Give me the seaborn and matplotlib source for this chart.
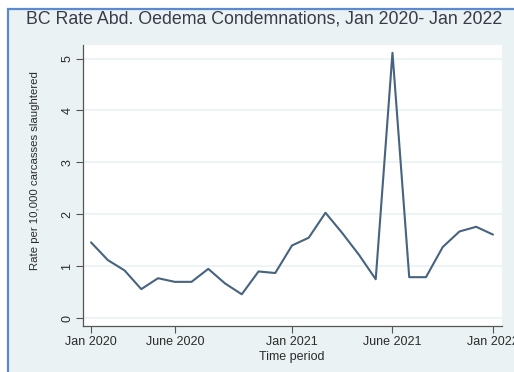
import matplotlib
matplotlib.use("Agg")
import matplotlib.pyplot as plt
from matplotlib.patches import Rectangle
import seaborn as sns
import pandas as pd

# Monthly rate of abdominal oedema condemnations, Jan 2020 .. Jan 2022
month_index = list(range(25))
rate = [1.46, 1.12, 0.92, 0.56, 0.77, 0.70, 0.70, 0.95, 0.67, 0.46, 0.90, 0.87,
        1.40, 1.55, 2.03, 1.64, 1.22, 0.75, 5.11, 0.79, 0.79, 1.37, 1.67, 1.76, 1.61]

tick_months = [0, 5, 12, 18, 24]
tick_labels = ["Jan 2020", "June 2020", "Jan 2021", "June 2021", "Jan 2022"]
y_ticks = [0, 1, 2, 3, 4, 5]

df = pd.DataFrame({"month": month_index, "rate": rate})

BG = "#eaf2f3"
LINE = "#46637f"
TEXT = "#2b2b2b"

sns.set_theme(style="white")
plt.rcParams["font.family"] = ["Liberation Sans", "DejaVu Sans"]

fig = plt.figure(figsize=(5.14, 3.72), dpi=100)
fig.patch.set_facecolor("white")
W, H = 514, 372

# graph region background with the blue frame on the left and top
frame = Rectangle((8 / W, -0.05), 1.1, (H - 9) / H + 0.05,
                  transform=fig.transFigure, facecolor=BG,
                  edgecolor="#5b8ad0", linewidth=1.6, zorder=-10)
fig.patches.append(frame)

ax = fig.add_axes([83 / W, 1 - 326 / H, (502 - 83) / W, (326 - 45) / H])
ax.set_zorder(5)
ax.set_facecolor("white")

for y in y_ticks:
    ax.axhline(y, color=BG, linewidth=1.2, zorder=1)

sns.lineplot(data=df, x="month", y="rate", ax=ax, color=LINE,
             linewidth=1.5, zorder=3)

ax.set_xlim(-0.48, 24.54)
ax.set_ylim(-0.15, 5.26)
ax.set_xticks(tick_months)
ax.set_xticklabels(tick_labels)
ax.set_yticks(y_ticks)
ax.set_yticklabels([str(v) for v in y_ticks], rotation=90, va="center")

for side in ["top", "right"]:
    ax.spines[side].set_visible(False)
for side in ["left", "bottom"]:
    ax.spines[side].set_color("#555555")
    ax.spines[side].set_linewidth(0.9)

ax.tick_params(axis="both", direction="out", length=5, width=0.8,
               color="#555555", labelsize=9, labelcolor=TEXT, pad=2,
               left=True, bottom=True)

ax.set_xlabel("Time period", fontsize=9, color=TEXT)
ax.xaxis.set_label_coords(0.499, -0.09)
ax.set_ylabel("Rate per 10,000 carcasses slaughtered", fontsize=8.2,
              color=TEXT)
ax.yaxis.set_label_coords(-0.102, 0.553)

fig.text(264 / W, 1 - 19 / H,
         "BC Rate Abd. Oedema Condemnations, Jan 2020- Jan 2022",
         ha="center", va="center", fontsize=12.8, color="#3a3a4a")

fig.savefig("out.png", dpi=100, facecolor=fig.get_facecolor())
